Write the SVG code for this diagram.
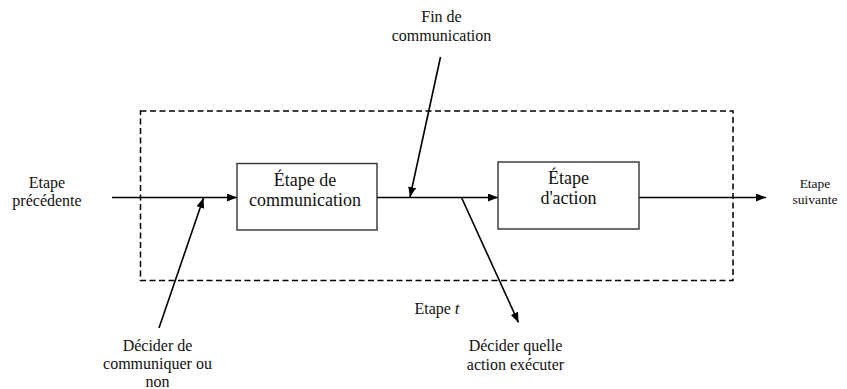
<svg xmlns="http://www.w3.org/2000/svg" width="847" height="389" viewBox="0 0 847 389">
  <style>
    text { fill: #111; text-anchor: middle; }
    .box { fill: #fff; stroke: #333; stroke-width: 1.4; }
    .flow { fill: none; stroke: #000; stroke-width: 1.6; marker-end: url(#arrow); }
    .frame { fill: none; stroke: #000; stroke-width: 1.5; stroke-dasharray: 6 3.5; }
  </style>
  <defs>
    <marker id="arrow" viewBox="0 0 10 8" refX="10" refY="4" markerWidth="10" markerHeight="8" markerUnits="userSpaceOnUse" orient="auto">
      <path d="M0,0 L10,4 L0,8 Z" fill="#000"/>
    </marker>
  </defs>

  <rect width="847" height="389" fill="#fff"/>

  <g font-family="Liberation Serif, Times New Roman, Times, serif">
  <!-- dashed frame around one step -->
  <g id="frame">
    <rect class="frame" x="140.5" y="111" width="592.5" height="169.5"/>
    <text x="437" y="314" font-size="16">Etape <tspan font-style="italic" font-size="17">t</tspan></text>
  </g>

  <!-- connectors -->
  <g id="connectors">
    <line class="flow" x1="112" y1="197.5" x2="237" y2="197.5"/>
    <line class="flow" x1="377" y1="197.5" x2="498" y2="197.5"/>
    <line class="flow" x1="639" y1="197.5" x2="766" y2="197.5"/>
    <line class="flow" x1="159" y1="328" x2="203.5" y2="198"/>
    <line class="flow" x1="440.5" y1="57" x2="410" y2="197"/>
    <line class="flow" x1="461.5" y1="197.5" x2="518.5" y2="322.5"/>
  </g>

  <g id="communication">
    <rect class="box" x="237" y="163.5" width="140" height="66.5"/>
    <text x="305" y="186" font-size="18">Étape de</text>
    <text x="305" y="205.5" font-size="18">communication</text>
  </g>

  <g id="action">
    <rect class="box" x="498" y="162" width="141" height="67"/>
    <text x="568.5" y="184" font-size="18">Étape</text>
    <text x="568.5" y="204" font-size="18">d'action</text>
  </g>

  <g id="previous">
    <text x="47" y="187.5" font-size="16">Etape</text>
    <text x="47" y="205.5" font-size="16">précédente</text>
  </g>

  <g id="next">
    <text x="815" y="188" font-size="13.5">Etape</text>
    <text x="815" y="203.5" font-size="13.5">suivante</text>
  </g>

  <g id="end-communication">
    <text x="441.5" y="21.7" font-size="16">Fin de</text>
    <text x="441.5" y="40.5" font-size="16">communication</text>
  </g>

  <g id="decide-communicate">
    <text x="157.5" y="351" font-size="16">Décider de</text>
    <text x="157.5" y="368.8" font-size="16">communiquer ou</text>
    <text x="157.5" y="386.6" font-size="16">non</text>
  </g>

  <g id="decide-action">
    <text x="515.5" y="351" font-size="16">Décider quelle</text>
    <text x="515.5" y="370" font-size="16">action exécuter</text>
  </g>
  </g>
</svg>
